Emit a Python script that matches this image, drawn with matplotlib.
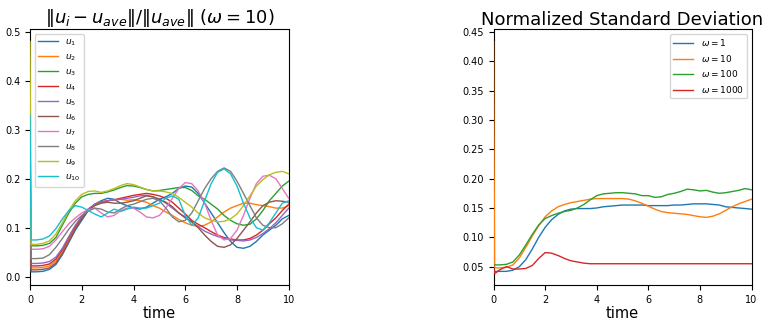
import numpy as np
import matplotlib
matplotlib.use("Agg")
import matplotlib.pyplot as plt

COLOR_LIST = ['tab:blue', 'tab:orange', 'tab:green', 'tab:red', 'tab:purple',
              'tab:brown', 'tab:pink', 'tab:gray', 'tab:olive', 'tab:cyan']

# time grid: spike at t=0, then baseline and 0.25 steps up to 10
TIME = np.concatenate([[0.0, 0.04], np.arange(0.25, 10.01, 0.25)])

# ---- left panel: ||u_i - u_ave|| / ||u_ave|| (omega = 10)
u1 = [0.25, 0.010,
      .010, .011, .015, .025, .045, .070, .095, .115, .135, .148, .155, .160, .158, .150, .145, .140, .138, .142, .150, .158,
      .163, .170, .180, .185, .183, .170, .150, .130, .110, .090, .072, .060, .058, .062, .072, .085, .095, .105, .118, .125]
u2 = [0.20, 0.018,
      .018, .019, .022, .032, .050, .075, .100, .120, .137, .148, .153, .155, .157, .158, .156, .157, .155, .152, .145, .140,
      .132, .125, .117, .110, .105, .103, .105, .112, .122, .132, .140, .145, .150, .150, .147, .145, .143, .140, .140, .145]
u3 = [0.30, 0.063,
      .063, .064, .068, .080, .105, .130, .150, .163, .168, .170, .170, .173, .177, .182, .186, .185, .182, .178, .175, .176,
      .178, .180, .182, .182, .176, .165, .158, .148, .138, .125, .115, .108, .105, .107, .118, .135, .155, .170, .185, .195]
u4 = [0.22, 0.022,
      .022, .023, .026, .036, .055, .080, .103, .122, .138, .147, .152, .155, .157, .160, .163, .166, .168, .170, .168, .165,
      .160, .152, .140, .128, .115, .107, .100, .092, .085, .080, .077, .075, .075, .078, .085, .095, .108, .120, .135, .148]
u5 = [0.18, 0.027,
      .027, .028, .031, .040, .058, .082, .105, .123, .138, .147, .152, .155, .157, .158, .160, .162, .165, .166, .163, .158,
      .150, .140, .130, .122, .112, .102, .093, .087, .082, .078, .075, .074, .073, .075, .080, .088, .098, .110, .125, .140]
u6 = [0.20, 0.014,
      .014, .015, .018, .028, .047, .072, .097, .118, .135, .145, .150, .152, .150, .150, .152, .155, .160, .165, .163, .158,
      .152, .143, .130, .120, .112, .100, .085, .072, .062, .060, .065, .078, .095, .112, .130, .145, .152, .155, .154, .152]
u7 = [0.28, 0.056,
      .056, .057, .062, .075, .092, .108, .120, .130, .137, .140, .130, .122, .125, .135, .140, .140, .132, .122, .120, .125,
      .140, .160, .180, .192, .190, .175, .150, .115, .085, .075, .078, .095, .125, .160, .190, .205, .207, .200, .180, .160]
u8 = [0.26, 0.037,
      .037, .038, .045, .060, .078, .097, .113, .125, .134, .140, .138, .132, .130, .138, .145, .148, .153, .158, .160, .155,
      .140, .122, .112, .115, .130, .155, .180, .200, .215, .222, .215, .195, .170, .145, .120, .105, .100, .100, .108, .120]
u9 = [0.48, 0.066,
      .066, .068, .073, .087, .110, .135, .155, .168, .174, .175, .172, .175, .180, .186, .190, .188, .183, .178, .175, .175,
      .173, .170, .162, .152, .142, .130, .120, .115, .112, .113, .118, .128, .145, .165, .185, .198, .208, .213, .215, .210]
u10 = [0.33, 0.075,
       .075, .077, .083, .098, .118, .135, .145, .142, .135, .128, .122, .130, .138, .133, .138, .142, .140, .140, .145, .150,
       .160, .165, .158, .125, .105, .120, .155, .190, .213, .220, .210, .185, .150, .120, .100, .095, .110, .130, .150, .155]
U_SERIES = [u1, u2, u3, u4, u5, u6, u7, u8, u9, u10]
U_LABELS = [r'$u_{%d}$' % (i + 1) for i in range(10)]

# ---- right panel: normalized standard deviation
std_w1 = [0.042, 0.042,
          .042, .042, .044, .050, .062, .080, .100, .117, .130, .139, .145, .148, .149, .149, .149, .150, .152, .153, .154, .155,
          .155, .155, .155, .154, .154, .154, .154, .155, .155, .156, .157, .157, .157, .156, .155, .152, .151, .150, .149, .148]
std_w10 = [0.433, 0.048,
           .048, .049, .053, .065, .083, .102, .120, .135, .145, .152, .156, .159, .161, .163, .165, .166, .166, .166, .166, .166,
           .165, .162, .158, .153, .148, .144, .142, .141, .140, .139, .137, .135, .134, .136, .140, .146, .152, .157, .161, .165]
std_w100 = [0.053, 0.053,
            .053, .054, .058, .070, .087, .105, .121, .132, .137, .141, .144, .146, .150, .156, .164, .171, .174, .175, .176, .176,
            .175, .174, .171, .171, .168, .169, .173, .175, .178, .182, .181, .179, .180, .177, .175, .176, .178, .180, .183, .181]
std_w1000 = [0.05, 0.038,
             .045, .050, .046, .046, .047, .052, .064, .074, .073, .069, .064, .060, .058, .056, .055, .055, .055, .055, .055, .055,
             .055, .055, .055, .055, .055, .055, .055, .055, .055, .055, .055, .055, .055, .055, .055, .055, .055, .055, .055, .055]
STD_SERIES = [std_w1, std_w10, std_w100, std_w1000]
STD_LABELS = [r'$\omega = 1$', r'$\omega = 10$', r'$\omega = 100$', r'$\omega = 1000$']


def drawPanel(ax, series, labels, title, ylim, legendLoc):
    # lines above the spines so the t=0 spike stays visible
    for i in range(len(series)):
        ax.plot(TIME, series[i], color=COLOR_LIST[i], label=labels[i], linewidth=1.0, zorder=3)
    ax.set_xlim(0, 10)
    ax.set_ylim(*ylim)
    ax.set_xticks([0, 2, 4, 6, 8, 10])
    ax.tick_params(labelsize=7)
    ax.set_xlabel("time", fontsize=10.5, labelpad=1)
    ax.set_title(title, fontsize=13, pad=3)
    ax.legend(loc=legendLoc, fontsize=6.5, handlelength=2.2)


fig = plt.figure(figsize=(7.7, 3.21), dpi=100)
axLeft = fig.add_axes([0.039, 0.112, 0.336, 0.797])
axRight = fig.add_axes([0.641, 0.112, 0.335, 0.797])

drawPanel(axLeft, U_SERIES, U_LABELS,
          r'$\|u_i - u_{ave}\|/\|u_{ave}\|$ $(\omega = 10)$', (-0.017, 0.505), 'upper left')
drawPanel(axRight, STD_SERIES, STD_LABELS,
          "Normalized Standard Deviation", (0.0187, 0.4545), 'upper right')

fig.savefig("out.png", dpi=100)
